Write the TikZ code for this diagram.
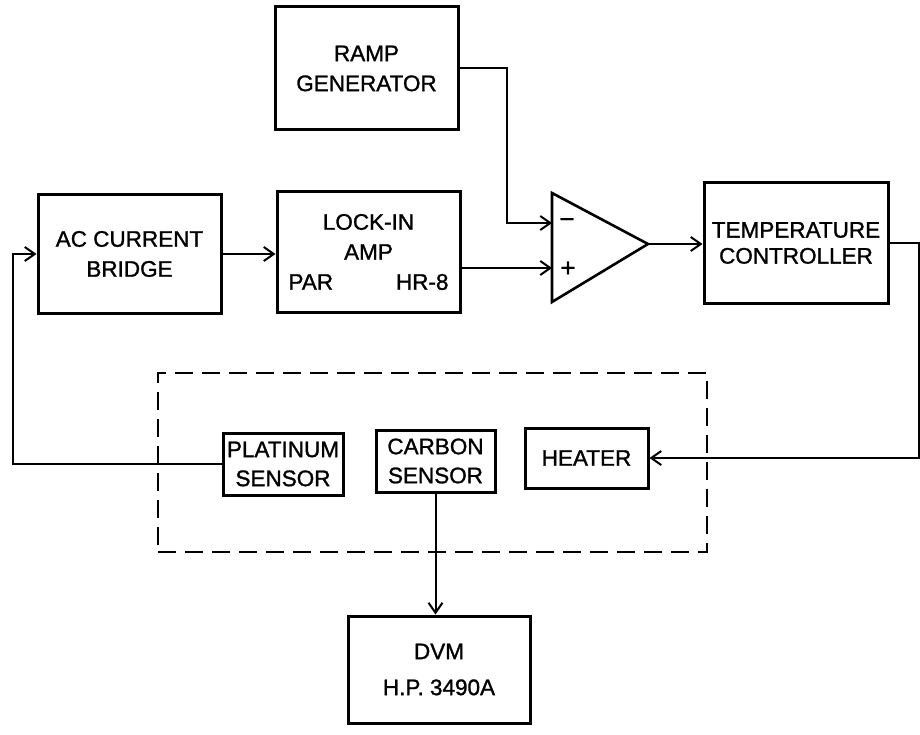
\documentclass[tikz,border=0pt]{standalone}
\usepackage{fontspec}
\setmainfont{Liberation Sans}[BoldFont=Liberation Sans, BoldFeatures={FakeBold=1.2}]
\usetikzlibrary{arrows.meta}

\tikzset{
  blockbox/.style={draw, rectangle, line width=3pt, align=center, inner sep=0pt, font=\fontsize{22.5}{30}\selectfont\bfseries},
  cryobox/.style={draw, rectangle, line width=2.8pt, dash pattern=on 18pt off 9pt, inner sep=0pt},
  wire/.style={line width=2pt},
  feed/.style={wire, -{Straight Barb[length=10pt, width=14pt, line width=2pt]}},
  sign/.style={inner sep=0pt, font=\fontsize{26}{26}\selectfont\bfseries},
}

\begin{document}
\begin{tikzpicture}[x=1pt, y=-1pt]
    \useasboundingbox (0,0) rectangle (920,735);

    \node[blockbox, minimum width=183pt, minimum height=123pt] (ramp) at (366.5,68.5) {RAMP\\GENERATOR};
    \node[blockbox, minimum width=183pt, minimum height=118pt] (bridge) at (129.5,254) {AC CURRENT\\BRIDGE};
    \node[blockbox, minimum width=183pt, minimum height=120pt] (lockin) at (368.5,252) {LOCK-IN\\AMP\\\makebox[160pt]{PAR\hfill HR-8}};
    \node[blockbox, minimum width=184pt, minimum height=120pt] (temp) at (796,243) {TEMPERATURE\\[-4pt]CONTROLLER};
    \node[cryobox, minimum width=549pt, minimum height=179pt] (cryo) at (432.5,462.5) {};
    \node[blockbox, minimum width=120pt, minimum height=62pt] (platinum) at (283,464) {PLATINUM\\[-1pt]SENSOR};
    \node[blockbox, minimum width=119pt, minimum height=62pt] (carbon) at (435.5,461) {CARBON\\[-1pt]SENSOR};
    \node[blockbox, minimum width=123pt, minimum height=60pt] (heater) at (586.5,458) {HEATER};
    \node[blockbox, minimum width=182pt, minimum height=107pt] (dvm) at (439,669.5) {DVM\\[6pt]H.P. 3490A};

    \coordinate (amptop) at (552,193);
    \coordinate (ampbot) at (552,302);
    \coordinate (amptip) at (648,244);
    \coordinate (ampminus) at (552,223);
    \coordinate (ampplus) at (552,268);
    \coordinate (ramprise) at (507,0);
    \coordinate (loopcorner) at (13,0);
    \draw[line width=2.6pt, line join=miter] (amptop) -- (amptip) -- (ampbot) -- cycle;
    \node[sign] (minussign) at (567,223) {−};
    \node[sign] (plussign) at (568,269) {+};

    \draw[feed] (ramp.east) -- (ramp.east -| ramprise) |- (ampminus);
    \draw[feed] (lockin.east |- ampplus) -- (ampplus);
    \draw[feed] (bridge.east) -- (bridge.east -| lockin.west);
    \draw[feed] (amptip) -- (amptip -| temp.west);
    \draw[feed] (temp.east) -- ++(29,0) |- (heater.east);
    \draw[feed] (platinum.west) -- (platinum.west -| loopcorner) |- (bridge.west);
    \draw[feed] (carbon.south) -- (carbon.south |- dvm.north);
\end{tikzpicture}
\end{document}
